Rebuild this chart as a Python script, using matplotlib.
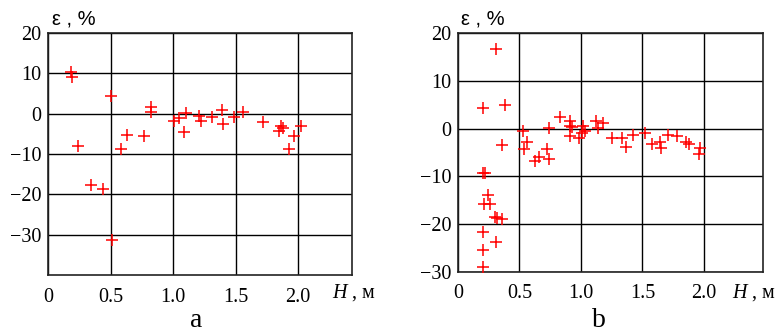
import numpy as np
import matplotlib
matplotlib.use('Agg')
import matplotlib.pyplot as plt

# Datos (panel a)
H_a = [0.18, 0.19, 0.24, 0.34, 0.44, 0.50, 0.51, 0.58, 0.63, 0.77, 0.82, 0.82,
       1.01, 1.05, 1.09, 1.10, 1.21, 1.22, 1.31, 1.39, 1.40, 1.49, 1.56, 1.72,
       1.85, 1.86, 1.88, 1.93, 1.97, 2.02]
eps_a = [10.4, 9.1, -7.9, -17.8, -18.7, 4.3, -31.3, -8.7, -5.2, -5.5, 1.7, 0.3,
         -1.7, -1.1, -4.6, 0.2, -0.5, -1.9, -0.8, 0.8, -2.5, -0.8, 0.4, -2.1,
         -4.4, -3.1, -3.5, -8.7, -5.5, -3.1]

# Datos (panel b)
H_b = [0.31, 0.20, 0.38, 0.36, 0.53, 0.56, 0.54, 0.63, 0.66, 0.74, 0.72, 0.74,
       0.83, 0.91, 0.91, 0.93, 0.91, 0.98, 1.01, 1.02,
       0.20, 0.22, 0.24, 0.21, 0.26, 0.30, 0.32, 0.36, 0.20, 0.31, 0.20, 0.20,
       1.03, 1.12, 1.18, 1.14, 1.25, 1.33, 1.37, 1.42, 1.52, 1.58, 1.64, 1.65,
       1.71, 1.78, 1.85, 1.88, 1.97, 1.96]
eps_b = [16.7, 4.3, 5.0, -3.4, -0.6, -2.7, -4.3, -6.7, -5.9, -6.4, -4.3, 0.1,
         2.4, 1.6, 0.5, 0.3, -1.5, -2.0, -0.9, 0.5,
         -9.2, -9.2, -13.8, -15.8, -15.8, -18.5, -18.7, -18.9, -21.7, -23.8, -25.5, -28.9,
         -0.6, 1.6, 1.1, 0.1, -2.0, -2.0, -3.8, -1.3, -0.9, -3.2, -2.7, -4.1,
         -1.3, -1.6, -2.9, -3.2, -4.1, -5.3]

xticks = [0, 0.5, 1.0, 1.5, 2.0]
xlabels = ['0', '0.5', '1.0', '1.5', '2.0']

plt.rcParams['font.family'] = 'Liberation Serif'
plt.rcParams['mathtext.fontset'] = 'custom'
plt.rcParams['mathtext.it'] = 'Liberation Serif:italic'
plt.rcParams['mathtext.rm'] = 'Liberation Serif'

W, Hpx = 781, 334
fig = plt.figure(figsize=(W / 100, Hpx / 100), dpi=100)

def px_axes(l, t, r, b):
    return fig.add_axes([l / W, 1 - b / Hpx, (r - l) / W, (b - t) / Hpx])

ax_a = px_axes(48, 33, 352, 275)
ax_b = px_axes(458, 33, 763, 272)

def estilo(ax, x, y, xlim, ylim, yticks):
    ax.plot(x, y, '+', color='red', markersize=9, markeredgewidth=1.1, zorder=3)
    ax.set_xlim(*xlim)
    ax.set_ylim(*ylim)
    ax.set_xticks(xticks)
    ax.set_xticklabels(xlabels)
    ax.set_yticks(yticks)
    ax.set_yticklabels([('\u2212' + str(-v)) if v < 0 else str(v) for v in yticks])
    ax.grid(True, color='black', linewidth=1.0)
    ax.tick_params(length=0, labelsize=14.5, pad=5)
    ax.tick_params(axis='x', pad=9)
    for s in ax.spines.values():
        s.set_linewidth(1.2)
        s.set_color('#222222')

estilo(ax_a, H_a, eps_a, (0, 2.43), (-40, 20), [-30, -20, -10, 0, 10, 20])
estilo(ax_b, H_b, eps_b, (0, 2.48), (-30, 20), [-30, -20, -10, 0, 10, 20])

# Etiquetas de ejes
for xl, xh in [(52, 332), (461, 732)]:
    fig.text(xl / W, 1 - 19 / Hpx, '\u03b5 , %', family='Liberation Sans',
             fontsize=14.5, va='center', ha='left')
    fig.text(xh / W, 1 - 293 / Hpx, '$H$ , м', fontsize=14.5, va='center', ha='left')

fig.text(196 / W, 1 - 327 / Hpx, 'a', fontsize=20, ha='center', va='baseline')
fig.text(599 / W, 1 - 327 / Hpx, 'b', fontsize=20, ha='center', va='baseline')

plt.savefig('out.png', dpi=100)
